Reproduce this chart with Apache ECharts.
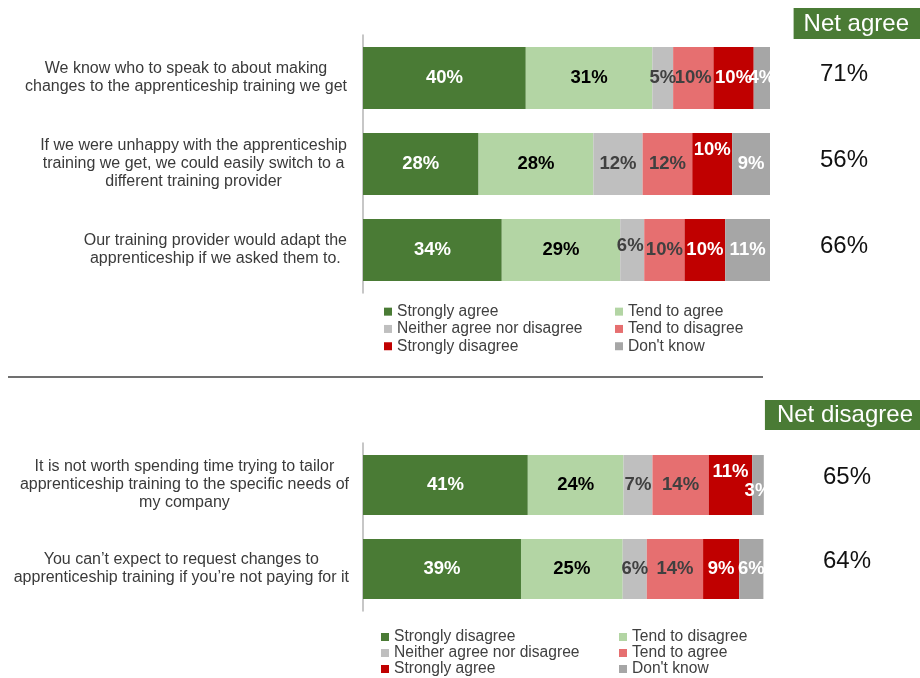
<!DOCTYPE html>
<html>
<head>
<meta charset="utf-8">
<script src="https://cdn.jsdelivr.net/npm/echarts@6/dist/echarts.min.js"></script>
<style>html,body{margin:0;padding:0;background:#fff}#c{width:920px;height:678px}</style>
</head>
<body>
<div id="c"></div>
<script>
// ---- data ----
const topCategories = [
  "We know who to speak to about making\nchanges to the apprenticeship training we get",
  "If we were unhappy with the apprenticeship\ntraining we get, we could easily switch to a\ndifferent training provider",
  "Our training provider would adapt the\napprenticeship if we asked them to."
];
const bottomCategories = [
  "It is not worth spending time trying to tailor\napprenticeship training to the specific needs of\nmy company",
  "You can\u2019t expect to request changes to\napprenticeship training if you\u2019re not paying for it"
];
const topSeriesNames = ["Strongly agree", "Tend to agree", "Neither agree nor disagree", "Tend to disagree", "Strongly disagree", "Don't know"];
const bottomSeriesNames = ["Strongly disagree", "Tend to disagree", "Neither agree nor disagree", "Tend to agree", "Strongly agree", "Don't know"];

const topStronglyAgree = [40.0, 28.4, 34.1];
const topTendAgree = [31.1, 28.2, 29.1];
const topNeither = [5.1, 12.1, 5.9];
const topTendDisagree = [9.9, 12.2, 9.9];
const topStronglyDisagree = [9.9, 9.8, 10.0];
const topDontKnow = [4.0, 9.3, 11.0];

const bottomStronglyDisagree = [41.0, 39.3];
const bottomTendDisagree = [23.8, 25.3];
const bottomNeither = [7.2, 6.0];
const bottomTendAgree = [14.0, 14.0];
const bottomStronglyAgree = [10.8, 9.0];
const bottomDontKnow = [2.9, 6.0];

const netAgree = ["71%", "56%", "66%"];
const netDisagree = ["65%", "64%"];

// ---- styling ----
const FONT = 'Arial, "Liberation Sans", sans-serif';
const segColors = ['#4a7b35', '#b3d5a4', '#bfbfbf', '#e66f70', '#c00000', '#a6a6a6'];
const labelColors = ['#ffffff', '#000000', '#404040', '#404040', '#ffffff', '#ffffff'];
// manual label nudges as in the original: [seriesIndex, dataIndex, dx, dy]
const topNudges = [[4, 1, 0, -14], [2, 2, -2, -4]];
const bottomNudges = [[4, 0, 0, -13], [5, 0, 0, 6]];

const topValues = [topStronglyAgree, topTendAgree, topNeither, topTendDisagree, topStronglyDisagree, topDontKnow];
const bottomValues = [bottomStronglyDisagree, bottomTendDisagree, bottomNeither, bottomTendAgree, bottomStronglyAgree, bottomDontKnow];

function buildSeries(names, values, axisIdx, stack, barWidth, nudges) {
  return names.map((name, i) => ({
    name: name,
    type: 'bar',
    stack: stack,
    xAxisIndex: axisIdx,
    yAxisIndex: axisIdx * 2,
    barWidth: barWidth,
    itemStyle: { color: segColors[i] },
    label: {
      show: true,
      position: 'inside',
      fontFamily: FONT,
      fontSize: 18.5,
      fontWeight: 'bold',
      color: labelColors[i],
      formatter: p => Math.round(p.value) + '%'
    },
    data: values[i].map((v, j) => {
      const n = nudges.find(a => a[0] === i && a[1] === j);
      return n ? { value: v, label: { offset: [n[2], n[3]] } } : v;
    })
  }));
}

function catLabel(margin) {
  return {
    margin: margin,
    formatter: v => v.split('\n').map(l => '{c|' + l + '}').join('\n'),
    rich: { c: { align: 'center', fontFamily: FONT, fontSize: 16, lineHeight: 18, color: '#3a3a3a' } }
  };
}

function netLabel(margin, lift) {
  return {
    margin: margin,
    formatter: v => '{v|' + v + '}',
    rich: { v: { fontFamily: FONT, fontSize: 24, color: '#111', padding: [0, 0, lift * 2, 0] } }
  };
}

function legend(left, top, lh, items) {
  return {
    orient: 'vertical', left: left, top: top, padding: 0, itemGap: 0,
    itemWidth: 8, itemHeight: 8, icon: 'rect', selectedMode: false,
    textStyle: { fontFamily: FONT, fontSize: 15.6, color: '#404040', lineHeight: lh },
    data: items.map(it => ({ name: it[0], itemStyle: { color: it[1] } }))
  };
}

const option = {
  animation: false,
  textStyle: { fontFamily: FONT },
  title: [
    { text: 'Net agree', right: 0, top: 8, backgroundColor: '#4a7b35', padding: [2, 11, 1, 10],
      textStyle: { color: '#fff', fontSize: 24, fontWeight: 'normal', fontFamily: FONT, lineHeight: 28 } },
    { text: 'Net disagree', right: 0, top: 400, backgroundColor: '#4a7b35', padding: [1, 7, 1, 12],
      textStyle: { color: '#fff', fontSize: 24, fontWeight: 'normal', fontFamily: FONT, lineHeight: 28 } }
  ],
  legend: [
    legend(384, 303, 17.3, [[topSeriesNames[0], segColors[0]], [topSeriesNames[2], segColors[2]], [topSeriesNames[4], segColors[4]]]),
    legend(615, 303, 17.3, [[topSeriesNames[1], segColors[1]], [topSeriesNames[3], segColors[3]], [topSeriesNames[5], segColors[5]]]),
    legend(381, 629, 16, [[bottomSeriesNames[0], segColors[0]], [bottomSeriesNames[2], segColors[2]], [bottomSeriesNames[4], segColors[4]]]),
    legend(619, 629, 16, [[bottomSeriesNames[1], segColors[1]], [bottomSeriesNames[3], segColors[3]], [bottomSeriesNames[5], segColors[5]]])
  ],
  grid: [
    { left: 363, top: 35, width: 407, height: 258 },
    { left: 363, top: 443, width: 402, height: 168 }
  ],
  xAxis: [
    { type: 'value', gridIndex: 0, min: 0, max: 100, show: false },
    { type: 'value', gridIndex: 1, min: 0, max: 100, show: false }
  ],
  yAxis: [
    { type: 'category', gridIndex: 0, inverse: true, data: topCategories,
      axisLine: { show: true, lineStyle: { color: '#b5b5b5', width: 1.5 } }, axisTick: { show: false },
      axisLabel: catLabel(16) },
    { type: 'category', gridIndex: 0, inverse: true, position: 'right', data: netAgree,
      axisLine: { show: false }, axisTick: { show: false },
      axisLabel: netLabel(50, 3.5) },
    { type: 'category', gridIndex: 1, inverse: true, data: bottomCategories,
      axisLine: { show: true, lineStyle: { color: '#b5b5b5', width: 1.5 } }, axisTick: { show: false },
      axisLabel: catLabel(14) },
    { type: 'category', gridIndex: 1, inverse: true, position: 'right', data: netDisagree,
      axisLine: { show: false }, axisTick: { show: false },
      axisLabel: netLabel(58, 8) }
  ],
  graphic: [
    { type: 'line', shape: { x1: 8, y1: 377, x2: 763, y2: 377 }, style: { stroke: '#404040', lineWidth: 1.5 } }
  ],
  series: buildSeries(topSeriesNames, topValues, 0, 'top', 62, topNudges)
    .concat(buildSeries(bottomSeriesNames, bottomValues, 1, 'bottom', 60, bottomNudges))
};

const chart = echarts.init(document.getElementById('c'));
chart.setOption(option);
</script>
</body>
</html>
